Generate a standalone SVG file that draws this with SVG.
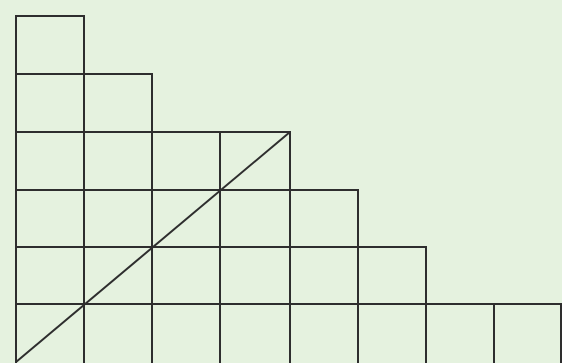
<svg xmlns="http://www.w3.org/2000/svg" width="562" height="363" viewBox="0 0 562 363">
<style>
.c{fill:none;stroke:#2e2e2e;stroke-width:2}
.d{stroke:#2e2e2e;stroke-width:2;fill:none}
</style>
<rect width="562" height="363" fill="#e5f2df"/>
<g id="grid">
<rect class="c" x="16" y="16" width="68" height="58"/>
<rect class="c" x="16" y="74" width="68" height="58"/>
<rect class="c" x="84" y="74" width="68" height="58"/>
<rect class="c" x="16" y="132" width="68" height="58"/>
<rect class="c" x="84" y="132" width="68" height="58"/>
<rect class="c" x="152" y="132" width="68" height="58"/>
<rect class="c" x="220" y="132" width="70" height="58"/>
<rect class="c" x="16" y="190" width="68" height="57"/>
<rect class="c" x="84" y="190" width="68" height="57"/>
<rect class="c" x="152" y="190" width="68" height="57"/>
<rect class="c" x="220" y="190" width="70" height="57"/>
<rect class="c" x="290" y="190" width="68" height="57"/>
<rect class="c" x="16" y="247" width="68" height="57"/>
<rect class="c" x="84" y="247" width="68" height="57"/>
<rect class="c" x="152" y="247" width="68" height="57"/>
<rect class="c" x="220" y="247" width="70" height="57"/>
<rect class="c" x="290" y="247" width="68" height="57"/>
<rect class="c" x="358" y="247" width="68" height="57"/>
<rect class="c" x="16" y="304" width="68" height="60"/>
<rect class="c" x="84" y="304" width="68" height="60"/>
<rect class="c" x="152" y="304" width="68" height="60"/>
<rect class="c" x="220" y="304" width="70" height="60"/>
<rect class="c" x="290" y="304" width="68" height="60"/>
<rect class="c" x="358" y="304" width="68" height="60"/>
<rect class="c" x="426" y="304" width="68" height="60"/>
<rect class="c" x="494" y="304" width="67" height="60"/>
</g>
<g id="connectors">
<line class="d" x1="16" y1="362" x2="290" y2="132"/>
</g>
</svg>
